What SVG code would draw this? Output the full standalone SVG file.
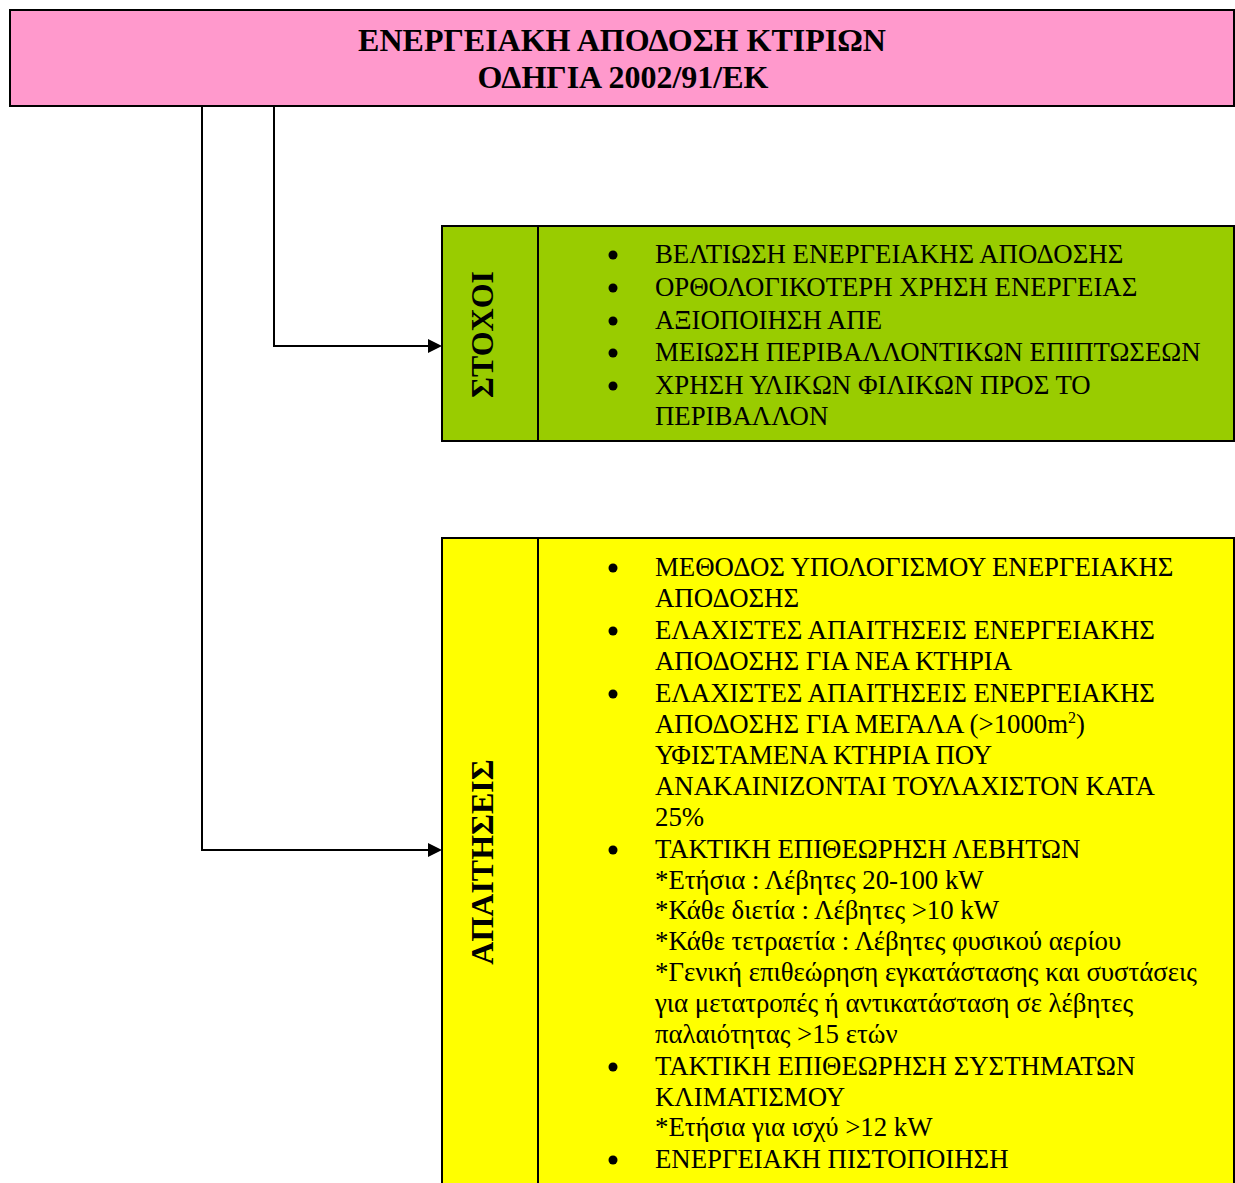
<svg xmlns="http://www.w3.org/2000/svg" width="1235" height="1183" viewBox="0 0 1235 1183">
<style>
.box{stroke:#000;stroke-width:2}
.hdr{font-family:"Liberation Serif","Times New Roman",serif;font-weight:bold;font-size:32px;fill:#000;text-anchor:middle}
.lbl{font-family:"Liberation Serif","Times New Roman",serif;font-weight:bold;font-size:32px;fill:#000;text-anchor:middle}
.t{font-family:"Liberation Serif","Times New Roman",serif;font-size:26.8px;fill:#000}
.conn{fill:none;stroke:#000;stroke-width:2}
.div{stroke:#000;stroke-width:2}
</style>
<g id="connectors">
<path class="conn" d="M274,106 V346 H428"/>
<path d="M428,339 L442,346 L428,353 z" fill="#000"/>
<path class="conn" d="M202,106 V850 H428"/>
<path d="M428,843 L442,850 L428,857 z" fill="#000"/>
</g>
<g id="header">
<rect class="box" x="10" y="10" width="1224" height="96" fill="#FF99CC"/>
<text class="hdr" x="622" y="51">ΕΝΕΡΓΕΙΑΚΗ ΑΠΟΔΟΣΗ ΚΤΙΡΙΩΝ</text>
<text class="hdr" x="623" y="88">ΟΔΗΓΙΑ 2002/91/ΕΚ</text>
</g>
<g id="stoxoi">
<rect class="box" x="442" y="226" width="792" height="215" fill="#99CC00"/>
<line class="div" x1="538" y1="226" x2="538" y2="441"/>
<text class="lbl" transform="translate(493,334.5) rotate(-90)">ΣΤΟΧΟΙ</text>
<g fill="#000">
<circle cx="613" cy="255" r="4.5"/>
<circle cx="613" cy="288" r="4.5"/>
<circle cx="613" cy="321" r="4.5"/>
<circle cx="613" cy="353" r="4.5"/>
<circle cx="613" cy="386" r="4.5"/>
</g>
<text class="t" x="655" y="263">ΒΕΛΤΙΩΣΗ ΕΝΕΡΓΕΙΑΚΗΣ ΑΠΟΔΟΣΗΣ</text>
<text class="t" x="655" y="296">ΟΡΘΟΛΟΓΙΚΟΤΕΡΗ ΧΡΗΣΗ ΕΝΕΡΓΕΙΑΣ</text>
<text class="t" x="655" y="329">ΑΞΙΟΠΟΙΗΣΗ ΑΠΕ</text>
<text class="t" x="655" y="361">ΜΕΙΩΣΗ ΠΕΡΙΒΑΛΛΟΝΤΙΚΩΝ ΕΠΙΠΤΩΣΕΩΝ</text>
<text class="t" x="655" y="394">ΧΡΗΣΗ ΥΛΙΚΩΝ ΦΙΛΙΚΩΝ ΠΡΟΣ ΤΟ</text>
<text class="t" x="655" y="425">ΠΕΡΙΒΑΛΛΟΝ</text>
</g>
<g id="apaitiseis">
<rect class="box" x="442" y="538" width="792" height="660" fill="#FFFF00"/>
<line class="div" x1="538" y1="538" x2="538" y2="1198"/>
<text class="lbl" transform="translate(493,862) rotate(-90)">ΑΠΑΙΤΗΣΕΙΣ</text>
<g fill="#000">
<circle cx="613" cy="568" r="4.5"/>
<circle cx="613" cy="631" r="4.5"/>
<circle cx="613" cy="694" r="4.5"/>
<circle cx="613" cy="850" r="4.5"/>
<circle cx="613" cy="1067" r="4.5"/>
<circle cx="613" cy="1160" r="4.5"/>
</g>
<text class="t" x="655" y="576">ΜΕΘΟΔΟΣ ΥΠΟΛΟΓΙΣΜΟΥ ΕΝΕΡΓΕΙΑΚΗΣ</text>
<text class="t" x="655" y="607">ΑΠΟΔΟΣΗΣ</text>
<text class="t" x="655" y="639">ΕΛΑΧΙΣΤΕΣ ΑΠΑΙΤΗΣΕΙΣ ΕΝΕΡΓΕΙΑΚΗΣ</text>
<text class="t" x="655" y="670">ΑΠΟΔΟΣΗΣ ΓΙΑ ΝΕΑ ΚΤΗΡΙΑ</text>
<text class="t" x="655" y="702">ΕΛΑΧΙΣΤΕΣ ΑΠΑΙΤΗΣΕΙΣ ΕΝΕΡΓΕΙΑΚΗΣ</text>
<text class="t" x="655" y="733">ΑΠΟΔΟΣΗΣ ΓΙΑ ΜΕΓΑΛΑ (&gt;1000m<tspan font-size="16" dy="-10">2</tspan><tspan dy="10">)</tspan></text>
<text class="t" x="655" y="764">ΥΦΙΣΤΑΜΕΝΑ ΚΤΗΡΙΑ ΠΟΥ</text>
<text class="t" x="655" y="795">ΑΝΑΚΑΙΝΙΖΟΝΤΑΙ ΤΟΥΛΑΧΙΣΤΟΝ ΚΑΤΑ</text>
<text class="t" x="655" y="826">25%</text>
<text class="t" x="655" y="858">ΤΑΚΤΙΚΗ ΕΠΙΘΕΩΡΗΣΗ ΛΕΒΗΤΩΝ</text>
<text class="t" x="655" y="889">*Ετήσια : Λέβητες 20-100 kW</text>
<text class="t" x="655" y="919">*Κάθε διετία : Λέβητες &gt;10 kW</text>
<text class="t" x="655" y="950">*Κάθε τετραετία : Λέβητες φυσικού αερίου</text>
<text class="t" x="655" y="981">*Γενική επιθεώρηση εγκατάστασης και συστάσεις</text>
<text class="t" x="655" y="1012">για μετατροπές ή αντικατάσταση σε λέβητες</text>
<text class="t" x="655" y="1043">παλαιότητας &gt;15 ετών</text>
<text class="t" x="655" y="1075">ΤΑΚΤΙΚΗ ΕΠΙΘΕΩΡΗΣΗ ΣΥΣΤΗΜΑΤΩΝ</text>
<text class="t" x="655" y="1106">ΚΛΙΜΑΤΙΣΜΟΥ</text>
<text class="t" x="655" y="1136">*Ετήσια για ισχύ &gt;12 kW</text>
<text class="t" x="655" y="1168">ΕΝΕΡΓΕΙΑΚΗ ΠΙΣΤΟΠΟΙΗΣΗ</text>
</g>
</svg>
